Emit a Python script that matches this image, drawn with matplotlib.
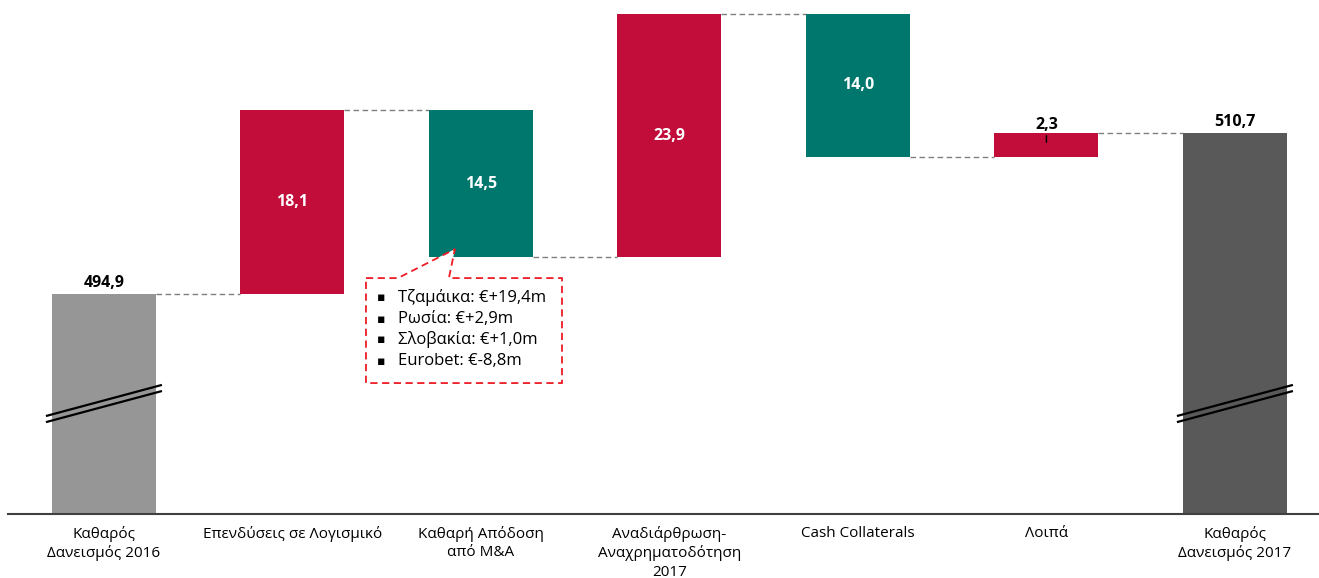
import matplotlib
matplotlib.use("Agg")
import matplotlib.pyplot as plt
from matplotlib.patches import Polygon

plt.rcParams["font.family"] = ["Open Sans", "DejaVu Sans"]

# data
categories = ["Καθαρός\nΔανεισμός 2016", "Επενδύσεις σε Λογισμικό",
              "Καθαρή Απόδοση\nαπό M&A", "Αναδιάρθρωση-\nΑναχρηματοδότηση\n2017",
              "Cash Collaterals", "Λοιπά", "Καθαρός\nΔανεισμός 2017"]
start_value = 494.9
changes = [18.1, -14.5, 23.9, -14.0, 2.3]
end_value = 510.7
value_labels = ["494,9", "18,1", "14,5", "23,9", "14,0", "2,3", "510,7"]
callout_lines = ["Τζαμάικα: €+19,4m", "Ρωσία: €+2,9m", "Σλοβακία: €+1,0m", "Eurobet: €-8,8m"]

RED = "#C20D3B"
TEAL = "#00776D"
GREY = "#969696"
DARK = "#595959"

axis_floor = 473.3  # broken axis start
ymax = 523.78
break_level = 484.4
width = 0.552

fig = plt.figure(figsize=(13.19, 5.78), dpi=100)
ax = fig.add_axes([8 / 1319, 64 / 578, 1311 / 1319, 514 / 578])
ax.set_xlim(-0.509, 6.446)
ax.set_ylim(axis_floor, ymax)

# build waterfall
bottoms, heights, colors = [], [], []
bottoms.append(axis_floor)
heights.append(start_value - axis_floor)
colors.append(GREY)
level = start_value
levels = [start_value]
for c in changes:
    bottoms.append(min(level, level + c))
    heights.append(abs(c))
    colors.append(RED if c > 0 else TEAL)
    level += c
    levels.append(level)
bottoms.append(axis_floor)
heights.append(end_value - axis_floor)
colors.append(DARK)

xs = list(range(len(categories)))
ax.bar(xs, heights, bottom=bottoms, width=width, color=colors, zorder=2)

# connectors
for i in range(len(xs) - 1):
    ax.plot([xs[i] + width / 2, xs[i + 1] - width / 2], [levels[i], levels[i]],
            color="#7f7f7f", lw=1, ls=(0, (4, 2.5)), zorder=1)

# labels
for i in xs:
    top = bottoms[i] + heights[i]
    if i in (0, len(xs) - 1):
        ax.annotate(value_labels[i], (i, top), xytext=(0, 2.5), textcoords="offset points",
                    ha="center", va="bottom", fontsize=11.5, fontweight="bold", color="black")
    elif i == 5:
        ax.annotate(value_labels[i], xy=(i, top - 0.9), xytext=(0, 7), textcoords="offset points",
                    ha="center", va="bottom", fontsize=11.5, fontweight="bold", color="black",
                    arrowprops=dict(arrowstyle="-", color="black", lw=1, shrinkA=0, shrinkB=0))
    else:
        ax.text(i, bottoms[i] + heights[i] / 2, value_labels[i], ha="center", va="center",
                fontsize=11.5, fontweight="bold", color="white")

# axis break marks
for i in (0, len(xs) - 1):
    for off in (0.0, -0.6):
        ax.plot([i - 0.302, i + 0.302], [break_level - 1.45 + off, break_level + 1.55 + off],
                color="black", lw=1.6, clip_on=False, zorder=3)

# callout box for M&A
bx0, bx1, by0, by1 = 1.390, 2.430, 486.16, 496.47
tip = (1.862, 499.32)
poly = Polygon([(bx0, by1), (1.560, by1), tip, (1.830, by1), (bx1, by1), (bx1, by0), (bx0, by0)],
               closed=True, fill=True, facecolor="white", edgecolor="#EE1C25", lw=1.3,
               ls=(0, (4, 2.5)), zorder=4)
ax.add_patch(poly)
line_y = [494.6, 492.45, 490.45, 488.3]
for ly, txt in zip(line_y, callout_lines):
    ax.text(1.473, ly, "▪", ha="center", va="center", fontsize=9,
            family=["DejaVu Sans"], zorder=5)
    ax.text(1.558, ly, txt, ha="left", va="center", fontsize=12, zorder=5)

ax.set_xticks(xs)
ax.set_xticklabels(categories, fontsize=11, linespacing=1.3, va="top", multialignment="center")
ax.tick_params(axis="x", length=0, pad=8.5)
ax.set_yticks([])
for s in ("top", "right", "left"):
    ax.spines[s].set_visible(False)
ax.spines["bottom"].set_color("#404040")
ax.spines["bottom"].set_linewidth(1.5)

fig.savefig("out.png", dpi=100)
